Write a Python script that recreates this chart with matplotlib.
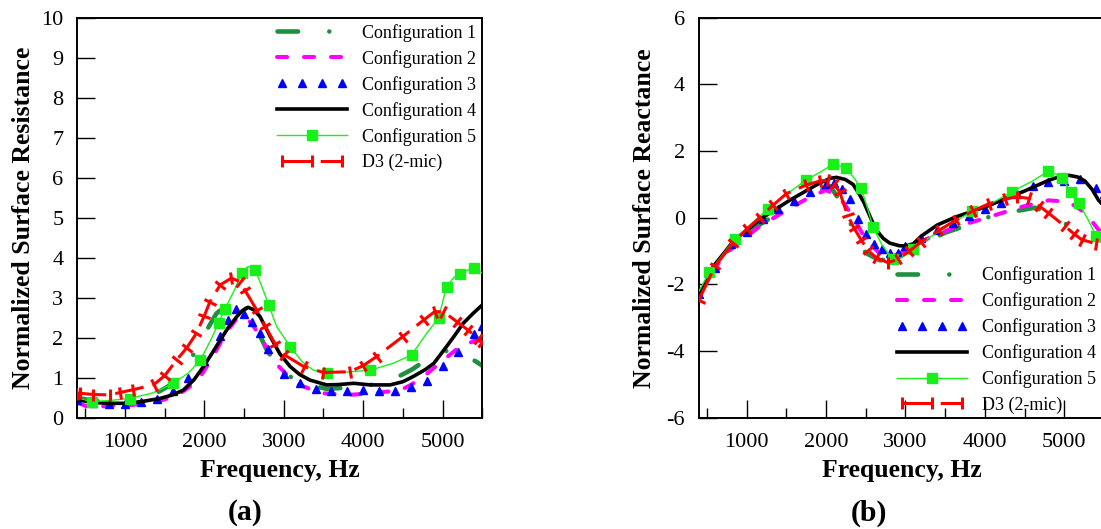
import numpy as np
import matplotlib
matplotlib.use("Agg")
import matplotlib.pyplot as plt
from matplotlib.lines import Line2D
from matplotlib.legend_handler import HandlerLine2D
from matplotlib.markers import MarkerStyle
from matplotlib.transforms import Affine2D

plt.rcParams['font.family'] = ['Liberation Serif', 'DejaVu Serif']
plt.rcParams['axes.unicode_minus'] = False

labels = ['Configuration 1', 'Configuration 2', 'Configuration 3',
          'Configuration 4', 'Configuration 5', 'D3 (2-mic)']

# ---- (a) normalized surface resistance ----
res_c1_f = [400, 600, 800, 1000, 1200, 1400, 1600, 1780, 1990, 2150, 2280, 2400, 2510, 2640,
            2785, 2900, 3040, 3250, 3540, 3800, 4090, 4300, 4610, 4800, 5050, 5180, 5300, 5440, 5500]
res_c1 = [0.5, 0.42, 0.4, 0.42, 0.5, 0.62, 0.85, 1.28, 2.05, 2.6, 2.82, 2.9, 2.78, 2.3,
          1.7, 1.35, 1.07, 0.85, 0.72, 0.75, 0.82, 0.88, 1.2, 1.45, 1.67, 1.68, 1.55, 1.38, 1.3]

res_c2_f = [400, 560, 800, 1100, 1400, 1650, 1800, 1950, 2100, 2200, 2300, 2410, 2500, 2600,
            2700, 2800, 2900, 3050, 3200, 3350, 3500, 3830, 4130, 4460, 4600, 4760, 5010, 5220,
            5430, 5500]
res_c2 = [0.38, 0.25, 0.3, 0.32, 0.4, 0.55, 0.75, 1.03, 1.5, 1.86, 2.2, 2.48, 2.53, 2.35,
          2.03, 1.7, 1.36, 1.05, 0.82, 0.7, 0.61, 0.57, 0.62, 0.68, 0.82, 1.03, 1.44, 1.78,
          1.94, 1.9]

res_c3_f = [400, 600, 800, 1000, 1200, 1400, 1600, 1800, 2000, 2200, 2300, 2400, 2500, 2600,
            2700, 2800, 3000, 3200, 3400, 3600, 3800, 4000, 4200, 4400, 4600, 4800, 5000, 5200,
            5400, 5500]
res_c3 = [0.45, 0.36, 0.34, 0.35, 0.39, 0.48, 0.68, 1.0, 1.42, 2.05, 2.45, 2.72, 2.6, 2.4,
          2.11, 1.72, 1.1, 0.88, 0.72, 0.66, 0.68, 0.69, 0.67, 0.68, 0.77, 0.93, 1.3, 1.64,
          2.1, 2.3]

res_c4_f = [400, 600, 800, 1020, 1200, 1440, 1600, 1735, 1870, 1990, 2100, 2200, 2300, 2410,
            2480, 2550, 2620, 2700, 2830, 2950, 3080, 3200, 3330, 3540, 3700, 3880, 4090, 4340,
            4500, 4630, 4780, 4890, 5050, 5150, 5260, 5380, 5500]
res_c4 = [0.45, 0.38, 0.36, 0.36, 0.4, 0.48, 0.57, 0.69, 0.95, 1.28, 1.62, 1.94, 2.25, 2.53,
          2.68, 2.76, 2.7, 2.53, 2.03, 1.6, 1.28, 1.08, 0.94, 0.82, 0.83, 0.86, 0.82, 0.82,
          0.9, 1.03, 1.2, 1.36, 1.78, 2.05, 2.36, 2.6, 2.82]

res_c5_f = [400, 580, 800, 1060, 1350, 1610, 1800, 1950, 2090, 2180, 2260, 2370, 2470, 2550,
            2640, 2720, 2810, 2910, 3080, 3230, 3370, 3540, 3800, 4090, 4380, 4610, 4800, 4950,
            5050, 5140, 5220, 5300, 5390, 5500]
res_c5 = [0.5, 0.4, 0.43, 0.48, 0.62, 0.86, 1.12, 1.44, 1.98, 2.38, 2.73, 3.15, 3.63, 3.78,
          3.69, 3.3, 2.82, 2.28, 1.78, 1.4, 1.19, 1.13, 1.14, 1.19, 1.36, 1.57, 2.11, 2.49,
          3.28, 3.5, 3.6, 3.68, 3.74, 3.62]
res_c5_marks = [1, 3, 5, 7, 9, 10, 12, 14, 16, 18, 21, 23, 25, 27, 28, 30, 32]

res_d3_f = [400, 440, 600, 810, 940, 1100, 1360, 1500, 1650, 1780, 1900, 2000, 2070, 2200,
            2340, 2450, 2510, 2660, 2760, 2890, 3000, 3250, 3500, 3830, 4000, 4170, 4500,
            4760, 4900, 5010, 5180, 5320, 5450, 5500]
res_d3 = [0.6, 0.61, 0.58, 0.57, 0.63, 0.7, 0.82, 1.05, 1.44, 1.75, 2.11, 2.55, 2.9, 3.32,
          3.49, 3.4, 3.19, 2.69, 2.3, 1.85, 1.58, 1.28, 1.13, 1.15, 1.3, 1.53, 2.03,
          2.44, 2.65, 2.65, 2.4, 2.19, 1.98, 1.9]

# ---- (b) normalized surface reactance ----
rea_c1_f = [400, 600, 850, 1200, 1600, 1900, 2050, 2150, 2250, 2380, 2500, 2680, 2900, 3200,
            3500, 3760, 4050, 4350, 4630, 4850, 5050, 5180, 5350, 5500]
rea_c1 = [-2.3, -1.5, -0.72, -0.15, 0.4, 0.8, 0.95, 0.6, 0.14, -0.56, -1.06, -1.28, -1.2, -0.8,
          -0.45, -0.24, 0.02, 0.18, 0.3, 0.1, -0.24, -0.46, -0.62, -0.7]

rea_c2_f = [400, 700, 900, 1165, 1540, 1830, 2000, 2170, 2340, 2500, 2670, 2800, 3000, 3300,
            3630, 4050, 4470, 4800, 5050, 5200, 5300, 5430, 5500]
rea_c2 = [-2.3, -1.16, -0.75, -0.26, 0.28, 0.66, 0.83, 0.62, 0.03, -0.66, -1.06, -1.18, -1.0,
          -0.6, -0.28, 0.02, 0.33, 0.52, 0.48, 0.25, 0.04, -0.36, -0.45]

rea_c3_f = [400, 600, 800, 1000, 1200, 1400, 1600, 1800, 2000, 2100, 2200, 2300, 2400, 2500,
            2600, 2700, 2800, 2900, 3000, 3200, 3400, 3600, 3800, 4000, 4200, 4400, 4600, 4800,
            5000, 5200, 5400, 5500]
rea_c3 = [-2.3, -1.5, -0.8, -0.42, -0.05, 0.25, 0.5, 0.78, 1.0, 1.05, 0.85, 0.55, -0.05, -0.5,
          -0.8, -0.95, -1.05, -1.05, -0.85, -0.6, -0.38, -0.15, 0.05, 0.25, 0.45, 0.7, 0.95,
          1.07, 1.1, 1.15, 0.88, 0.7]

rea_c4_f = [400, 580, 850, 1200, 1540, 1920, 2050, 2130, 2240, 2340, 2420, 2480, 2560, 2630,
            2720, 2800, 2920, 3000, 3100, 3200, 3400, 3630, 4000, 4500, 4800, 4950, 5060, 5170,
            5260, 5350, 5430, 5500]
rea_c4 = [-2.36, -1.46, -0.66, 0.0, 0.52, 1.04, 1.18, 1.21, 1.15, 1.0, 0.7, 0.44, 0.0, -0.36,
          -0.62, -0.76, -0.84, -0.85, -0.78, -0.55, -0.22, 0.02, 0.32, 0.8, 1.12, 1.24, 1.27,
          1.22, 1.1, 0.85, 0.53, 0.35]

rea_c5_f = [400, 530, 700, 850, 1050, 1270, 1500, 1750, 1950, 2085, 2250, 2350, 2440, 2520,
            2590, 2700, 2840, 2950, 3100, 3300, 3600, 3840, 4100, 4340, 4600, 4800, 4900, 4970,
            5080, 5180, 5300, 5400, 5500]
rea_c5 = [-2.2, -1.64, -1.1, -0.64, -0.2, 0.26, 0.7, 1.13, 1.4, 1.6, 1.5, 1.2, 0.89, 0.3,
          -0.27, -0.8, -1.25, -1.2, -0.95, -0.6, -0.15, 0.2, 0.45, 0.78, 1.1, 1.4, 1.3, 1.19,
          0.78, 0.44, -0.06, -0.55, -0.7]
rea_c5_marks = [1, 3, 5, 7, 9, 10, 12, 14, 16, 18, 21, 23, 25, 27, 28, 29, 31]

rea_d3_f = [400, 600, 830, 1000, 1165, 1330, 1500, 1750, 1920, 2020, 2100, 2170, 2270, 2350,
            2440, 2530, 2630, 2780, 2900, 3050, 3200, 3420, 3630, 3850, 4050, 4250, 4400, 4550,
            4680, 4800, 5010, 5120, 5220, 5400, 5500]
rea_d3 = [-2.46, -1.46, -0.76, -0.35, 0.0, 0.37, 0.72, 0.98, 1.1, 1.12, 1.0, 0.78, 0.08, -0.3,
          -0.66, -0.98, -1.2, -1.35, -1.25, -1.0, -0.72, -0.38, -0.08, 0.2, 0.42, 0.55, 0.63,
          0.58, 0.36, 0.14, -0.26, -0.48, -0.66, -0.78, -0.8]

RED = '#ff0000'
W, H = 1101, 529


def bar_marks(ax, xs, ys):
    # short red bars across the D3 curve, turned to be normal to it
    pts = ax.transData.transform(np.column_stack([xs, ys]))
    d = np.gradient(pts, axis=0)
    ang = np.degrees(np.arctan2(d[:, 1], d[:, 0]))
    for x, y, a in zip(xs, ys, ang):
        m = MarkerStyle('|', transform=Affine2D().rotate_deg(a))
        ax.plot(x, y, marker=m, ms=9, mew=2.2, color=RED, ls='none', zorder=6)


def panel(ax, data, ylim, yticks, ylabel, legend_loc, legend_anchor):
    c1, c2, c3, c4, c5, c5m, d3 = data
    ax.set_xlim(400, 5500)
    ax.set_ylim(*ylim)
    h1, = ax.plot(*c1, color='#1e9140', lw=3.3, dashes=[4.5, 6.8, 0.01, 6.8],
                  dash_capstyle='round', label=labels[0])
    h2, = ax.plot(*c2, color='#ff00ff', lw=2.9, dashes=[2.5, 4.2],
                  dash_capstyle='round', label=labels[1])
    h3, = ax.plot(*c3, color='#0000ff', ls='none', marker='^', ms=5.5, label=labels[2])
    h4, = ax.plot(*c4, color='black', lw=2.6, label=labels[3], zorder=4)
    h5, = ax.plot(*c5, color='#19f019', lw=1.0, marker='s', ms=6.5, markevery=c5m,
                  label=labels[4], zorder=5)
    ax.plot(*d3, color=RED, lw=2.2, dashes=[9.5, 3], zorder=6)
    bar_marks(ax, *d3)
    h6 = Line2D([], [], color=RED, lw=2.2, dashes=[9.5, 3], marker='|', ms=9, mew=2.2)

    ax.set_xticks([1000, 2000, 3000, 4000, 5000])
    ax.set_xticks(np.arange(500, 5501, 500), minor=True)
    ax.set_yticks(yticks)
    ax.tick_params(which='both', direction='in', labelsize=16, width=1.0)
    ax.tick_params(axis='x', which='major', length=13, pad=11)
    ax.tick_params(axis='x', which='minor', length=7)
    ax.tick_params(axis='y', which='major', length=13, pad=10)
    for s in ax.spines.values():
        s.set_linewidth(1.4)
    ax.set_xlabel('Frequency, Hz', fontsize=18.5, fontweight='bold', labelpad=5)
    ax.set_ylabel(ylabel, fontsize=18.5, fontweight='bold')
    ax.yaxis.set_label_coords(-0.105, 0.5)
    ax.legend([h1, h2, h3, h4, h5, h6], labels, loc=legend_loc,
              bbox_to_anchor=legend_anchor, frameon=False, fontsize=13,
              handlelength=3.9, handletextpad=0.8, labelspacing=0.45,
              borderpad=0, borderaxespad=0, numpoints=1,
              handler_map={h3: HandlerLine2D(numpoints=4), h6: HandlerLine2D(numpoints=3)})


fig = plt.figure(figsize=(W / 100, H / 100), dpi=100)
ax1 = fig.add_axes([77.3 / W, (H - 417.7) / H, 405 / W, 400 / H])
ax2 = fig.add_axes([699 / W, (H - 417.7) / H, 405 / W, 400 / H])

panel(ax1, [(res_c1_f, res_c1), (res_c2_f, res_c2), (res_c3_f, res_c3), (res_c4_f, res_c4),
            (res_c5_f, res_c5), res_c5_marks, (res_d3_f, res_d3)],
      (0, 10), range(0, 11), 'Normalized Surface Resistance', 'upper left', (0.493, 0.985))
panel(ax2, [(rea_c1_f, rea_c1), (rea_c2_f, rea_c2), (rea_c3_f, rea_c3), (rea_c4_f, rea_c4),
            (rea_c5_f, rea_c5), rea_c5_marks, (rea_d3_f, rea_d3)],
      (-6, 6), range(-6, 7, 2), 'Normalized Surface Reactance', 'lower left', (0.488, 0.0105))

fig.text(245.5 / W, 1 - 513 / H, '(a)', fontsize=21.5, fontweight='bold', ha='center', va='center')
fig.text(869 / W, 1 - 513 / H, '(b)', fontsize=21.5, fontweight='bold', ha='center', va='center')

fig.savefig('out.png', dpi=100)
